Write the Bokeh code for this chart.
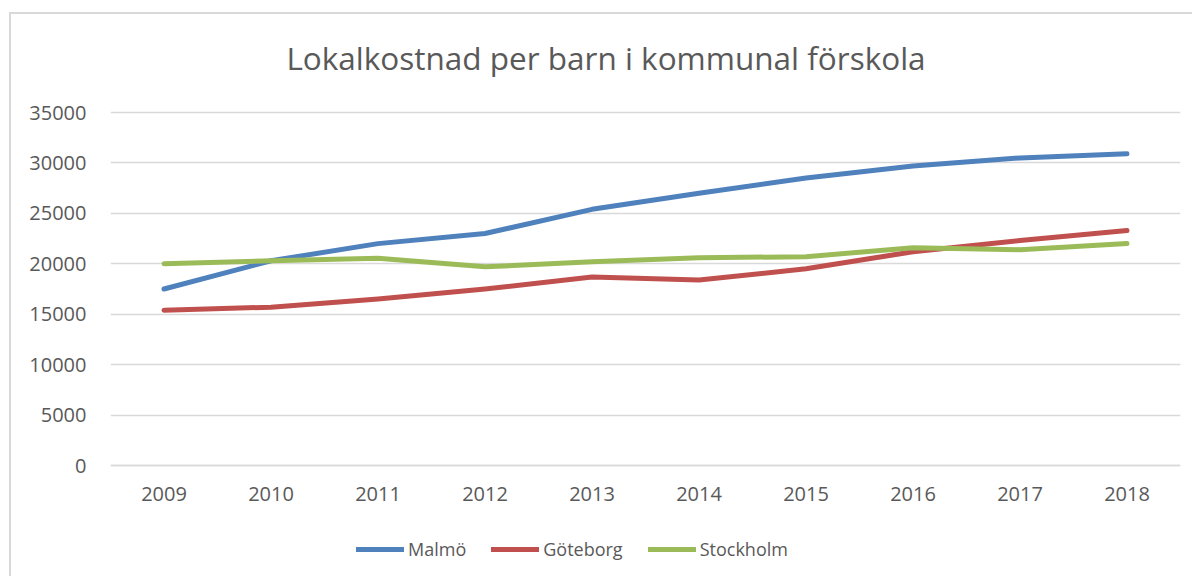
from bokeh.plotting import figure
from bokeh.models import FactorRange, Range1d, FixedTicker, Legend, LegendItem, Label
from bokeh.embed import file_html
from bokeh.resources import INLINE

years = ["2009", "2010", "2011", "2012", "2013", "2014", "2015", "2016", "2017", "2018"]
malmo = [17500, 20300, 22000, 23000, 25400, 27000, 28500, 29700, 30500, 30900]
goteborg = [15400, 15700, 16500, 17500, 18700, 18400, 19500, 21200, 22300, 23300]
stockholm = [20000, 20300, 20550, 19700, 20200, 20600, 20700, 21600, 21400, 22000]
series_names = ["Malmö", "Göteborg", "Stockholm"]
colors = ["#4f81bd", "#c0504d", "#9bbb59"]
y_ticks = [0, 5000, 10000, 15000, 20000, 25000, 30000, 35000]
title_text = "Lokalkostnad per barn i kommunal förskola"

FONT = "Open Sans"
TXT = "#595959"

# frame spans the whole canvas height; 35000 sits 98 px below its top,
# 0 sits 113 px above its bottom (353 px between them)
PX = 353 / 35000
Y_MAX = 35000 + 98 / PX
Y_MIN = -113 / PX

p = figure(
    width=1183, height=564,
    x_range=FactorRange(factors=years, range_padding=0),
    y_range=Range1d(Y_MIN, Y_MAX),
    output_backend="svg", toolbar_location=None,
    min_border_left=99, min_border_right=14, min_border_top=0, min_border_bottom=0,
    styles={"border-left": "2px solid #d9d9d9", "border-top": "2px solid #d9d9d9",
            "margin-left": "9px", "margin-top": "12px"},
)
p.outline_line_color = None
p.background_fill_color = "white"
p.border_fill_color = "white"

title = Label(x=495.5, y=521, x_units="screen", y_units="screen", text=title_text,
              text_align="center", text_baseline="middle",
              text_font=FONT, text_font_size="31.5px", text_color=TXT)
p.add_layout(title)

p.xgrid.grid_line_color = None
p.ygrid.grid_line_color = "#d9d9d9"
p.ygrid.grid_line_width = 1.5

p.yaxis.ticker = FixedTicker(ticks=y_ticks)
p.yaxis.major_label_overrides = {t: str(t) for t in y_ticks}
p.yaxis.axis_line_color = None
p.yaxis.major_tick_line_color = None
p.yaxis.major_tick_out = 0
p.yaxis.major_tick_in = 0
p.yaxis.minor_tick_line_color = None
p.yaxis.major_label_standoff = 24
p.yaxis.major_label_text_font = FONT
p.yaxis.major_label_text_font_size = "20px"
p.yaxis.major_label_text_color = TXT

p.xaxis.fixed_location = 0
p.xaxis.axis_line_color = "#d9d9d9"
p.xaxis.axis_line_width = 1.5
p.xaxis.major_tick_line_color = None
p.xaxis.major_tick_out = 0
p.xaxis.major_tick_in = 0
p.xaxis.minor_tick_line_color = None
p.xaxis.major_label_standoff = 21
p.xaxis.major_label_text_font = FONT
p.xaxis.major_label_text_font_size = "20px"
p.xaxis.major_label_text_color = TXT

items = []
for name, vals, c in zip(series_names, [malmo, goteborg, stockholm], colors):
    r = p.line(years, vals, line_color=c, line_width=5, line_cap="round", line_join="round")
    items.append(LegendItem(label=name, renderers=[r]))

legend = Legend(items=items, orientation="horizontal", location=(246, 17),
                glyph_width=48, glyph_height=24, label_standoff=4, spacing=25,
                padding=0, margin=0, border_line_color=None,
                label_text_font=FONT, label_text_font_size="18px", label_text_color=TXT,
                background_fill_alpha=0)
p.add_layout(legend, "center")

open("out.html", "w").write(file_html(p, INLINE))
